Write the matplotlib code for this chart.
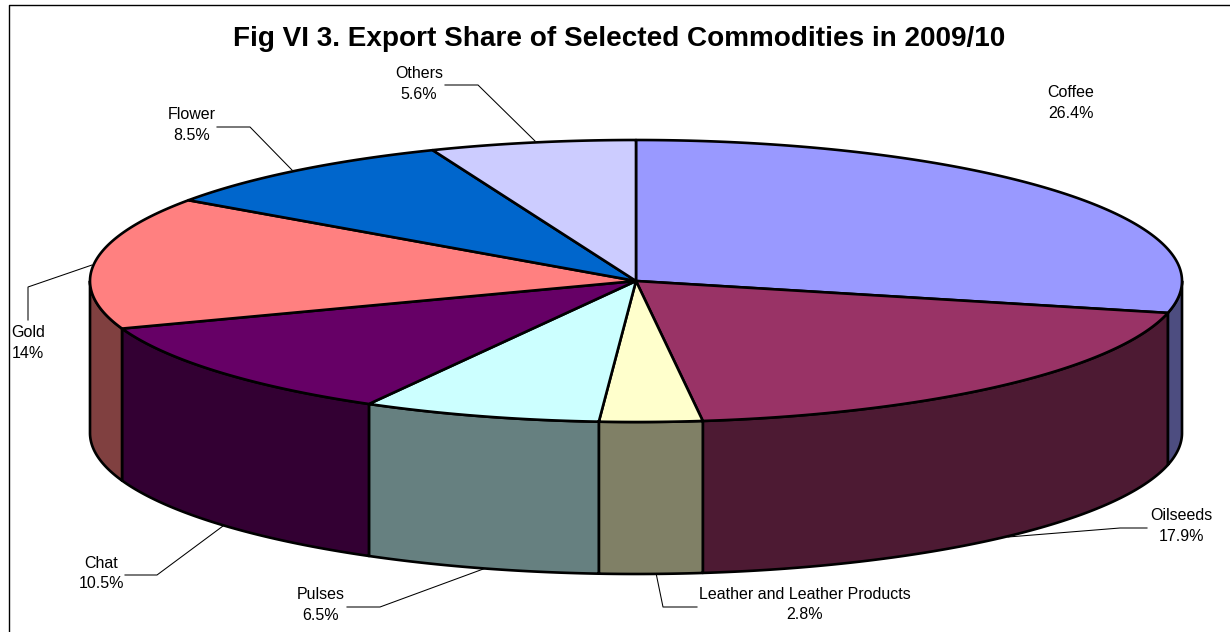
import numpy as np
import matplotlib
matplotlib.use('Agg')
import matplotlib.pyplot as plt
from matplotlib.colors import to_rgb

plt.rcParams['font.family'] = ['Liberation Sans', 'DejaVu Sans']

# Chart data
commodities = ['Coffee', 'Oilseeds', 'Leather and Leather Products', 'Pulses', 'Chat', 'Gold', 'Flower', 'Others']
shares = [26.4, 17.9, 2.8, 6.5, 10.5, 14, 8.5, 5.6]
share_labels = ['26.4%', '17.9%', '2.8%', '6.5%', '10.5%', '14%', '8.5%', '5.6%']
colors = ['#9999FF', '#993366', '#FFFFCC', '#CCFFFF', '#660066', '#FF8080', '#0066CC', '#CCCCFF']

# Label centres in pixels
label_x = [1071, 1181, 805, 321, 101, 28, 192, 419]
label_y = [103, 526, 604.5, 605, 573.5, 343, 125, 84]

# Leader lines in pixels
leaders = [
    None,
    [(1147, 528), (1120, 528), (1008, 537)],
    [(697, 607), (663, 607), (656, 573)],
    [(347, 607), (380, 607), (486, 568)],
    [(125, 575), (157, 575), (223, 526)],
    [(28, 320), (28, 287), (92, 265)],
    [(217, 127), (250, 127), (292, 170)],
    [(445, 85), (478, 85), (535, 141)],
]

cx, cy = 636, 281
rx, ry = 546, 141
depth = 152
edge_w = 1.9


def arc(a0, a1):
    # angles in degrees, clockwise from twelve o'clock
    t = np.radians(np.linspace(a0, a1, 200))
    return cx + rx * np.sin(t), cy - ry * np.cos(t)


fig = plt.figure(figsize=(12.3, 6.32), dpi=100)
ax = fig.add_axes([0, 0, 1, 1])
ax.set_xlim(0, 1230)
ax.set_ylim(632, 0)
ax.axis('off')

# Chart frame, only top and left fall inside the picture
ax.plot([8.5, 8.5, 1230], [632, 4.5, 4.5], color='black', lw=1.0, clip_on=False)

bounds = np.cumsum([0] + shares) / sum(shares) * 360

# Side walls first
for i, c in enumerate(colors):
    a0, a1 = max(bounds[i], 90), min(bounds[i + 1], 270)
    if a0 >= a1:
        continue
    x, y = arc(a0, a1)
    side = tuple(v * 0.5 for v in to_rgb(c))
    ax.fill(np.r_[x, x[::-1]], np.r_[y, y[::-1] + depth], facecolor=side,
            edgecolor='black', lw=edge_w, joinstyle='round', zorder=2)

# Top slices
for i, c in enumerate(colors):
    x, y = arc(bounds[i], bounds[i + 1])
    ax.fill(np.r_[cx, x], np.r_[cy, y], facecolor=c,
            edgecolor='black', lw=edge_w, joinstyle='round', zorder=3)

# Labels and leaders
for i, name in enumerate(commodities):
    ax.text(label_x[i], label_y[i], name + '\n' + share_labels[i], ha='center', va='center',
            fontsize=11.5, linespacing=1.42, color='black', zorder=5)
    if leaders[i] is not None:
        xs, ys = zip(*leaders[i])
        ax.plot(xs, ys, color='black', lw=0.75, zorder=1)

ax.text(619, 39, 'Fig VI 3. Export Share of Selected Commodities in 2009/10', ha='center', va='center',
        fontsize=20.1, fontweight='bold', color='black')

fig.savefig('out.png', dpi=100)
